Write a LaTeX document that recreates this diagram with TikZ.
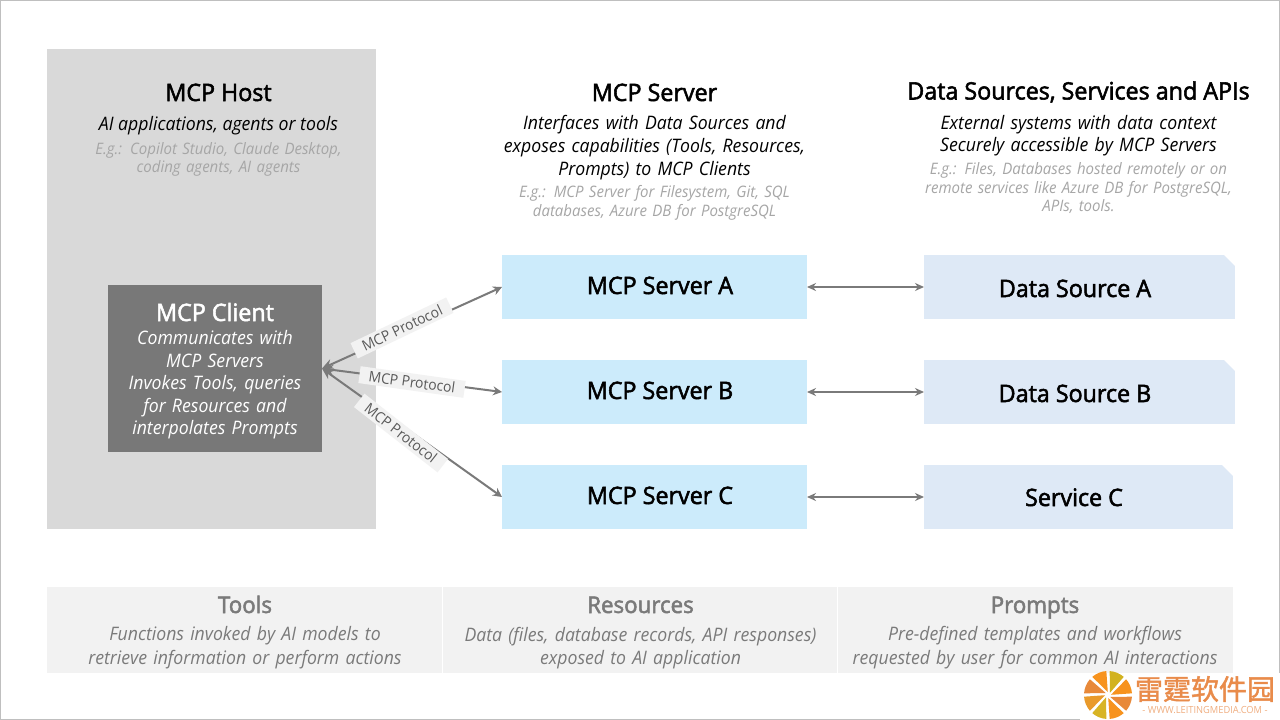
\documentclass[tikz,border=0pt]{standalone}
\usepackage{fontspec}
\usetikzlibrary{arrows.meta}
\setmainfont[FakeStretch=0.95]{Open Sans}
\newfontfamily\headfont[FakeStretch=0.97,FakeBold=2.2]{Open Sans}
\newfontfamily\cjkfont[FakeBold=1.5]{Noto Sans CJK SC}
\definecolor{hostc}{HTML}{D9D9D9}
\definecolor{clientc}{HTML}{787878}
\definecolor{serverc}{HTML}{CCEBFB}
\definecolor{datac}{HTML}{DEE9F6}
\definecolor{lowc}{HTML}{F2F2F2}
\definecolor{linec}{HTML}{7A7A7A}
\definecolor{greyt}{HTML}{A6A6A6}
\definecolor{wmc}{HTML}{E98B4A}
\newcommand{\fs}[1]{\fontsize{#1}{#1}\selectfont}
\tikzset{
 x=1pt,y=-1pt,
 box/.style={anchor=north west,inner sep=0pt,outer sep=0pt,draw=none},
 txt/.style={inner sep=0pt,outer sep=0pt,align=center,text=black},
 head/.style={txt,font=\headfont\fs{24},text height=17pt,text depth=5pt},
 desc/.style={txt,font=\fs{18.6}\itshape},
 eg/.style={txt,text=greyt,font=\fs{15.8}\itshape},
 srv/.style={head},
 servbox/.style={box,fill=serverc,minimum width=305pt,minimum height=64pt},
 databox/.style={box,fill=datac,minimum height=64pt},
 snip/.style={fill=white},
 lowbox/.style={box,fill=lowc,minimum height=86pt},
 lowhead/.style={txt,text=linec,font=\headfont\fs{23},text height=17pt,text depth=5pt},
 lowdesc/.style={txt,text=linec,font=\fs{18.6}\itshape},
 link/.style={draw=linec,line width=1.6pt,{Stealth[length=9pt,width=8pt]}-{Stealth[length=9pt,width=8pt]}},
 flink/.style={link,line width=2pt,{Stealth[length=11pt,width=10pt]}-{Stealth[length=9pt,width=9pt]}},
 proto/.style={inner sep=0pt,outer sep=0pt,fill=lowc,minimum width=106pt,minimum height=17pt,text=black!65,font=\fs{14.6}},
}
\begin{document}
\begin{tikzpicture}
\useasboundingbox (0,0) rectangle (1280,720);
\fill[white] (0,0) rectangle (1280,720);
\draw[black!25,line width=1pt] (0.5,0.5) rectangle (1279.5,719.5);

\node[box,fill=hostc,minimum width=329pt,minimum height=480pt] (host) at (47,49) {};
\node[box,fill=clientc,minimum width=214pt,minimum height=167pt] (client) at (108,285) {};
\node[servbox] (srvA) at (502,255) {};
\node[servbox] (srvB) at (502,360) {};
\node[servbox] (srvC) at (502,465) {};
\node[databox,minimum width=311pt] (dataA) at (924,255) {};
\node[databox,minimum width=311pt] (dataB) at (924,360) {};
\node[databox,minimum width=309pt] (dataC) at (924,465) {};
\foreach \n in {dataA,dataB,dataC}
  \fill[snip] (\n.north east) -- ++(-11,0) -- ++(11,11) -- cycle;

\node[head] (t1) at (218.5,95) {MCP Host};
\node[desc] (t2) at (218.5,125.5) {AI applications, agents or tools};
\node[eg,text width=320pt] (t3) at (218.5,159.5) {E.g.: Copilot Studio, Claude Desktop,\\[2pt]coding agents, AI agents};

\node[head] (t4) at (654.5,95) {MCP Server};
\node[desc,text width=340pt] (t5) at (654.5,147.5) {Interfaces with Data Sources and\\[4.3pt]exposes capabilities (Tools, Resources,\\[4.3pt]Prompts) to MCP Clients};
\node[eg,text width=340pt] (t6) at (654.5,203) {E.g.: MCP Server for Filesystem, Git, SQL\\[2pt]databases, Azure DB for PostgreSQL};

\node[head] (t7) at (1078.5,93.5) {Data Sources, Services and APIs};
\node[desc,text width=340pt] (t8) at (1078.5,135.5) {External systems with data context\\[3pt]Securely accessible by MCP Servers};
\node[eg,text width=340pt] (t9) at (1078.5,188) {E.g.: Files, Databases hosted remotely or on\\[2.5pt]remote services like Azure DB for PostgreSQL,\\[2.5pt]APIs, tools.};

\node[head,text=white] (c1) at (215,315) {MCP Client};
\node[txt,text=white,font=\fs{18.6}\itshape,text width=210pt] (c2) at (215,385) {Communicates with\\[3.6pt]MCP Servers\\[3.6pt]Invokes Tools, queries\\[3.6pt]for Resources and\\[3.6pt]interpolates Prompts};

\node[srv] (sa) at (660,288) {MCP Server A};
\node[srv] (sb) at (660,393) {MCP Server B};
\node[srv] (sc) at (660,498) {MCP Server C};
\node[srv] (da) at (1075,291) {Data Source A};
\node[srv] (db) at (1075,396) {Data Source B};
\node[srv] (dc) at (1074,500) {Service C};

\draw[flink] (client.east) -- (srvA.west);
\draw[flink] (client.east) -- (srvB.west);
\draw[flink] (client.east) -- (srvC.west);
\draw[link] (srvA.east) -- (dataA.west);
\draw[link] (srvB.east) -- (dataB.west);
\draw[link] (srvC.east) -- (dataC.west);

\node[proto,rotate=25.5] (pa) at (402,328) {MCP Protocol};
\node[proto,rotate=-8] (pb) at (412,382) {MCP Protocol};
\node[proto,rotate=-38] (pc) at (401,433) {MCP Protocol};

\node[lowbox,minimum width=395pt] (l1) at (47,587) {};
\node[lowbox,minimum width=394pt] (l2) at (443,587) {};
\node[lowbox,minimum width=395pt] (l3) at (838,587) {};
\node[lowhead] (l1a) at (245,607) {Tools};
\node[lowhead] (l2a) at (640.5,607) {Resources};
\node[lowhead] (l3a) at (1035,607) {Prompts};
\node[lowdesc,text width=390pt] (l1b) at (245,648) {Functions invoked by AI models to\\[4.5pt]retrieve information or perform actions};
\node[lowdesc,text width=390pt] (l2b) at (640.5,648) {Data (files, database records, API responses)\\[4.5pt]exposed to AI application};
\node[lowdesc,text width=390pt] (l3b) at (1035,648) {Pre-defined templates and workflows\\[4.5pt]requested by user for common AI interactions};

% watermark
\fill[white] (1080,673) rectangle (1280,720);
\foreach \a/\c in {0/F7931E,45/D2B21F,90/F7931E,135/E8893A,180/E99A2B,225/D8B425,270/F7931E,315/E8893A}{
 \definecolor{seg}{HTML}{\c}
 \fill[seg] ([shift={(\a+4:3pt)}]1108,695) -- ([shift={(\a+4:24pt)}]1108,695) arc[start angle=\a+4,end angle=\a+41,radius=24pt] -- cycle;
}
\node[inner sep=0pt,text=wmc,font=\cjkfont\fs{28}] (wm1) at (1205,689) {雷霆软件园};
\node[inner sep=0pt,text=wmc!70,font=\fs{9.8}] (wm2) at (1205,710) {- WWW.LEITINGMEDIA.COM -};
\end{tikzpicture}
\end{document}
